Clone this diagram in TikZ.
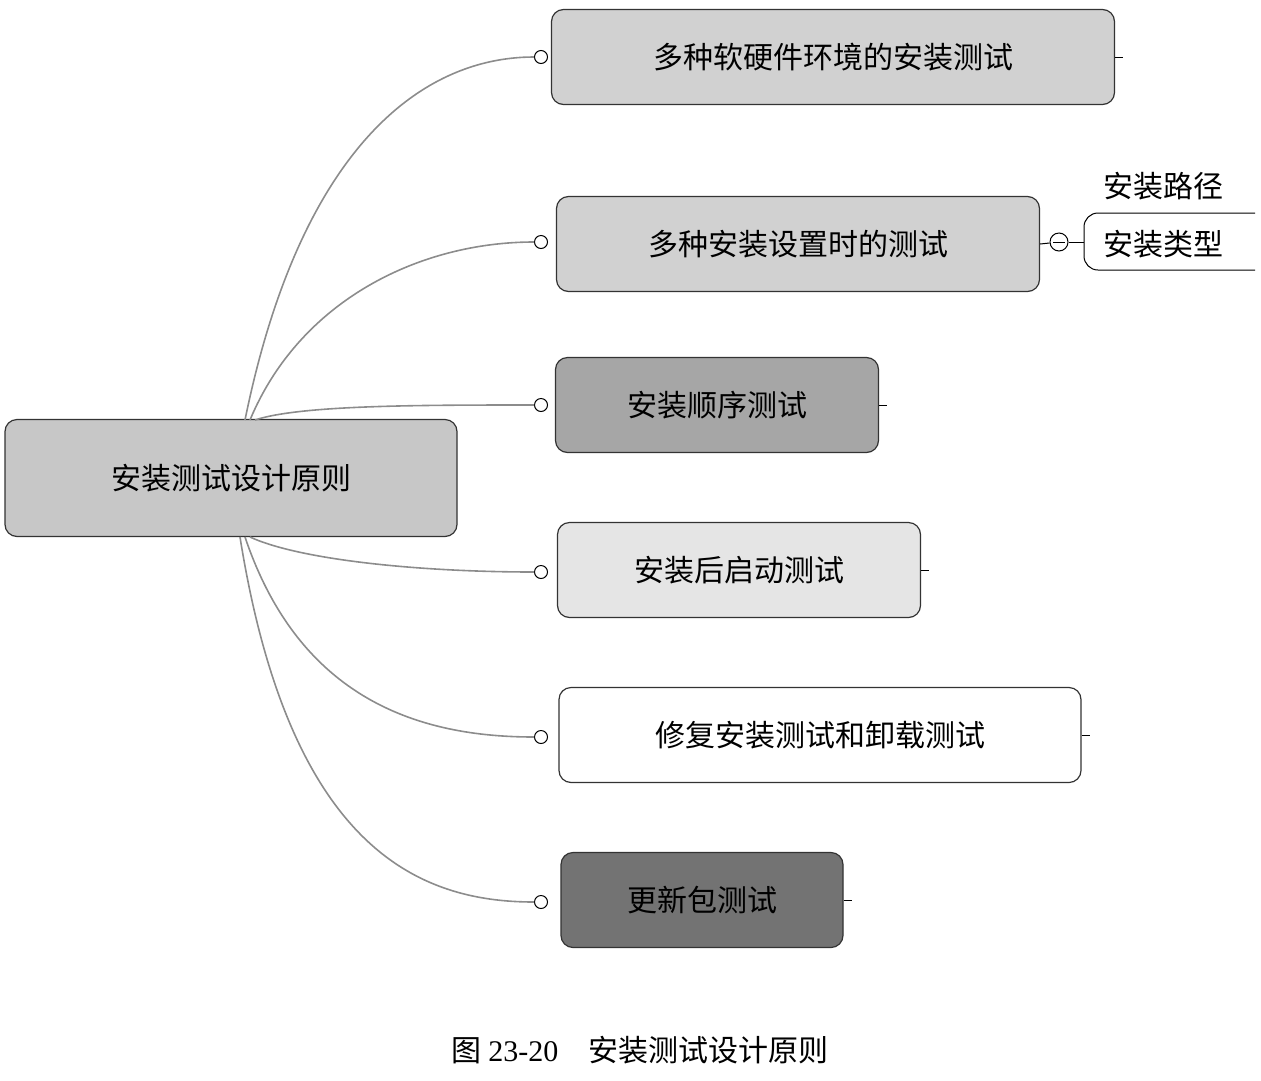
\documentclass[tikz,border=0pt]{standalone}
\usepackage{fontspec}
\setmainfont{Noto Sans CJK SC}
\newfontfamily\capfont{Liberation Serif}
\begin{document}
\begin{tikzpicture}[x=1pt,y=-1pt,
  topic/.style={draw=black!80,line width=1.2pt,rounded corners=12pt,inner sep=0pt,font=\fontsize{30}{36}\selectfont},
  link/.style={draw=black!45,line width=1.6pt},
  knob/.style={circle,draw=black,fill=white,line width=1pt,inner sep=0pt,minimum size=13pt}]
\useasboundingbox (0,0) rectangle (1261,1080);
\node[topic,fill=black!22,minimum width=452pt,minimum height=117pt] (root) at (231,478) {安装测试设计原则};
\node[topic,fill=black!18,minimum width=563pt,minimum height=95pt] (n1) at (833,57) {多种软硬件环境的安装测试};
\node[topic,fill=black!18,minimum width=483pt,minimum height=95pt] (n2) at (798,244) {多种安装设置时的测试};
\node[topic,fill=black!35,minimum width=323pt,minimum height=95pt] (n3) at (717,405) {安装顺序测试};
\node[topic,fill=black!10,minimum width=363pt,minimum height=95pt] (n4) at (739,570) {安装后启动测试};
\node[topic,fill=white,minimum width=522pt,minimum height=95pt] (n5) at (820,735) {修复安装测试和卸载测试};
\node[topic,fill=black!55,minimum width=282pt,minimum height=95pt] (n6) at (702,900) {更新包测试};
\foreach \n/\y in {n1/57,n3/405,n4/572,n5/737,n6/902}{
  \draw[line width=1pt] (\n.east) -- ++(8,0);
}
\foreach \n/\y in {n1/57,n2/242,n3/405,n4/572,n5/737,n6/902}{
  \node[knob] (k\n) at (541,\y) {};
}
\draw[link] (245,420) .. controls (300,150) and (420,57) .. (kn1);
\draw[link] (250,420) .. controls (300,300) and (420,242) .. (kn2);
\draw[link] (255,420) .. controls (300,405) and (420,405) .. (kn3);
\draw[link] (250,537) .. controls (300,560) and (420,572) .. (kn4);
\draw[link] (245,537) .. controls (300,700) and (420,737) .. (kn5);
\draw[link] (240,537) .. controls (290,850) and (420,902) .. (kn6);
\node[knob,minimum size=18pt] (km) at (1059,242) {};
\draw[line width=1pt] (1053,242) -- (1065,242);
\draw[line width=1pt] (n2.east) -- (km);
\coordinate (bt) at (1084,242);
\draw[line width=1pt] (km) -- (bt);
\draw[line width=1pt,rounded corners=14pt] (1255,213) -- (1084,213) -- (1084,270) -- (1255,270);
\node[font=\fontsize{30}{36}\selectfont,anchor=west] (s1) at (1100,186) {安装路径};
\node[font=\fontsize{30}{36}\selectfont,anchor=west] (s2) at (1100,244) {安装类型};
\node[font=\fontsize{30}{36}\selectfont] (cap) at (640,1050) {图 {\capfont 23-20}\quad 安装测试设计原则};
\end{tikzpicture}
\end{document}
